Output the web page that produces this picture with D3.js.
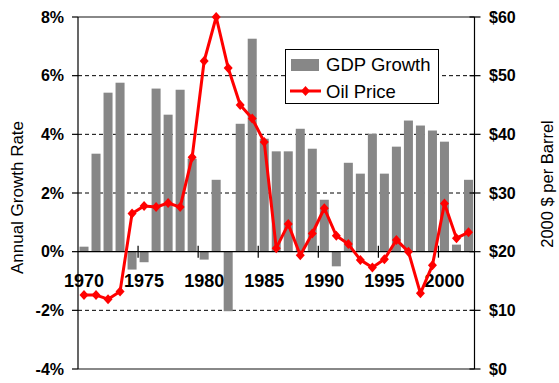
<!DOCTYPE html>
<html><head><meta charset="utf-8">
<script src="https://cdn.jsdelivr.net/npm/d3@7"></script>
<style>body{margin:0;background:#fff}svg{display:block;font-family:Arial,"Liberation Sans",sans-serif}</style>
</head><body><svg id="c" width="559" height="383"></svg>
<script>
const years = d3.range(1970, 2003);
const gdpGrowth = [0.17,3.34,5.42,5.76,-0.61,-0.36,5.56,4.67,5.52,3.17,-0.27,2.45,-2.03,4.36,7.26,3.85,3.42,3.42,4.19,3.51,1.77,-0.5,3.03,2.66,4.02,2.66,3.58,4.47,4.3,4.13,3.75,0.24,2.45];
const oilPrice = [12.6,12.6,11.9,13.2,26.5,27.8,27.6,28.3,27.6,36.1,52.5,60,51.3,45.0,42.7,38.7,20.6,24.7,19.4,23.1,27.4,22.7,21.3,18.6,17.3,18.7,22.0,20.0,12.9,17.7,28.2,22.3,23.3];
const leftTicks = [-4,-2,0,2,4,6,8];
const rightTicks = [0,10,20,30,40,50,60];
const yearLabels = [1970,1975,1980,1985,1990,1995,2000];

const svg = d3.select("#c");
const L = 78, R = 474.5, T = 17, B = 369;
const x = d3.scaleBand().domain(years).range([L, R]).paddingInner(0.25).paddingOuter(0.125);
const yL = d3.scaleLinear().domain([-4, 8]).range([B, T]);
const yR = d3.scaleLinear().domain([0, 60]).range([B, T]);
const step = x.step();
const barColor = "#878787";

// gridlines
svg.append("g").selectAll("line").data(leftTicks.filter(d => d !== 0 && d !== 8 && d !== -4)).join("line")
  .attr("x1", L).attr("x2", R).attr("y1", d => yL(d)).attr("y2", d => yL(d))
  .attr("stroke", "#000").attr("stroke-width", 1).attr("stroke-dasharray", "4,3");
// top/bottom border
svg.append("line").attr("x1", L).attr("x2", R).attr("y1", yL(8)).attr("y2", yL(8)).attr("stroke", "#888").attr("stroke-width", 2);
svg.append("line").attr("x1", L).attr("x2", R).attr("y1", yL(-4)).attr("y2", yL(-4)).attr("stroke", "#888").attr("stroke-width", 2);

// bars
svg.append("g").selectAll("rect").data(years).join("rect")
  .attr("x", (d) => x(d)).attr("width", x.bandwidth())
  .attr("y", (d, i) => yL(Math.max(0, gdpGrowth[i])))
  .attr("height", (d, i) => Math.abs(yL(gdpGrowth[i]) - yL(0)))
  .attr("fill", barColor);

// x axis line
svg.append("line").attr("x1", L).attr("x2", R).attr("y1", yL(0)).attr("y2", yL(0)).attr("stroke", "#000").attr("stroke-width", 1.2);
// x ticks at band boundaries every 5 years
svg.append("g").selectAll("line").data(yearLabels.slice(1)).join("line")
  .attr("x1", d => x(d) - step * x.paddingInner() / 2).attr("x2", d => x(d) - step * x.paddingInner() / 2)
  .attr("y1", yL(0) - 6).attr("y2", yL(0) + 6).attr("stroke", "#000").attr("stroke-width", 1.2);
// year labels
svg.append("g").selectAll("text").data(yearLabels).join("text")
  .attr("x", d => x(d) + x.bandwidth() / 2).attr("y", 287)
  .attr("text-anchor", "middle").attr("font-weight", "bold").attr("font-size", 18).text(d => d);

// left axis
svg.append("line").attr("x1", L).attr("x2", L).attr("y1", T).attr("y2", B).attr("stroke", "#000").attr("stroke-width", 1.2);
svg.append("g").selectAll("line").data(leftTicks).join("line")
  .attr("x1", L - 6).attr("x2", L).attr("y1", d => yL(d)).attr("y2", d => yL(d)).attr("stroke", "#000").attr("stroke-width", 1.2);
svg.append("g").selectAll("text").data(leftTicks).join("text")
  .attr("x", 64).attr("y", d => yL(d)).attr("dy", "0.36em").attr("text-anchor", "end")
  .attr("font-weight", "bold").attr("font-size", 16).text(d => d + "%");

// right axis
svg.append("line").attr("x1", R).attr("x2", R).attr("y1", T).attr("y2", B).attr("stroke", "#000").attr("stroke-width", 1.2);
svg.append("g").selectAll("line").data(rightTicks).join("line")
  .attr("x1", R - 5).attr("x2", R + 6).attr("y1", d => yR(d)).attr("y2", d => yR(d)).attr("stroke", "#000").attr("stroke-width", 1.2);
svg.append("g").selectAll("text").data(rightTicks).join("text")
  .attr("x", 489).attr("y", d => yR(d)).attr("dy", "0.36em").attr("text-anchor", "start")
  .attr("font-weight", "bold").attr("font-size", 16).text(d => "$" + d);

// oil line
const cx = (d, i) => x(years[i]) + x.bandwidth() / 2;
const line = d3.line().x((d, i) => cx(d, i)).y(d => yR(d));
svg.append("path").datum(oilPrice).attr("d", line).attr("fill", "none").attr("stroke", "#ff0000").attr("stroke-width", 3).attr("stroke-linejoin", "round");
const diamond = "M0,-5L4.5,0L0,5L-4.5,0Z";
svg.append("g").selectAll("path").data(oilPrice).join("path")
  .attr("d", diamond).attr("transform", (d, i) => `translate(${cx(d, i)},${yR(d)})`).attr("fill", "#ff0000");

// axis titles
svg.append("text").attr("transform", `translate(23,197.5) rotate(-90)`).attr("text-anchor", "middle")
  .attr("font-size", 17).text("Annual Growth Rate");
svg.append("text").attr("transform", `translate(553,184) rotate(-90)`).attr("text-anchor", "middle")
  .attr("font-size", 16.5).text("2000 $ per Barrel");

// legend
const lg = svg.append("g");
lg.append("rect").attr("x", 285.5).attr("y", 49.5).attr("width", 153).attr("height", 54).attr("fill", "#fff").attr("stroke", "#000").attr("stroke-width", 1);
lg.append("rect").attr("x", 291).attr("y", 59).attr("width", 28).attr("height", 12).attr("fill", barColor);
lg.append("text").attr("x", 326).attr("y", 71).attr("font-size", 18.5).text("GDP Growth");
lg.append("line").attr("x1", 290).attr("x2", 321).attr("y1", 91).attr("y2", 91).attr("stroke", "#ff0000").attr("stroke-width", 3);
lg.append("path").attr("d", diamond).attr("transform", "translate(305.5,91)").attr("fill", "#ff0000");
lg.append("text").attr("x", 326).attr("y", 97.5).attr("font-size", 18.5).text("Oil Price");
</script></body></html>
